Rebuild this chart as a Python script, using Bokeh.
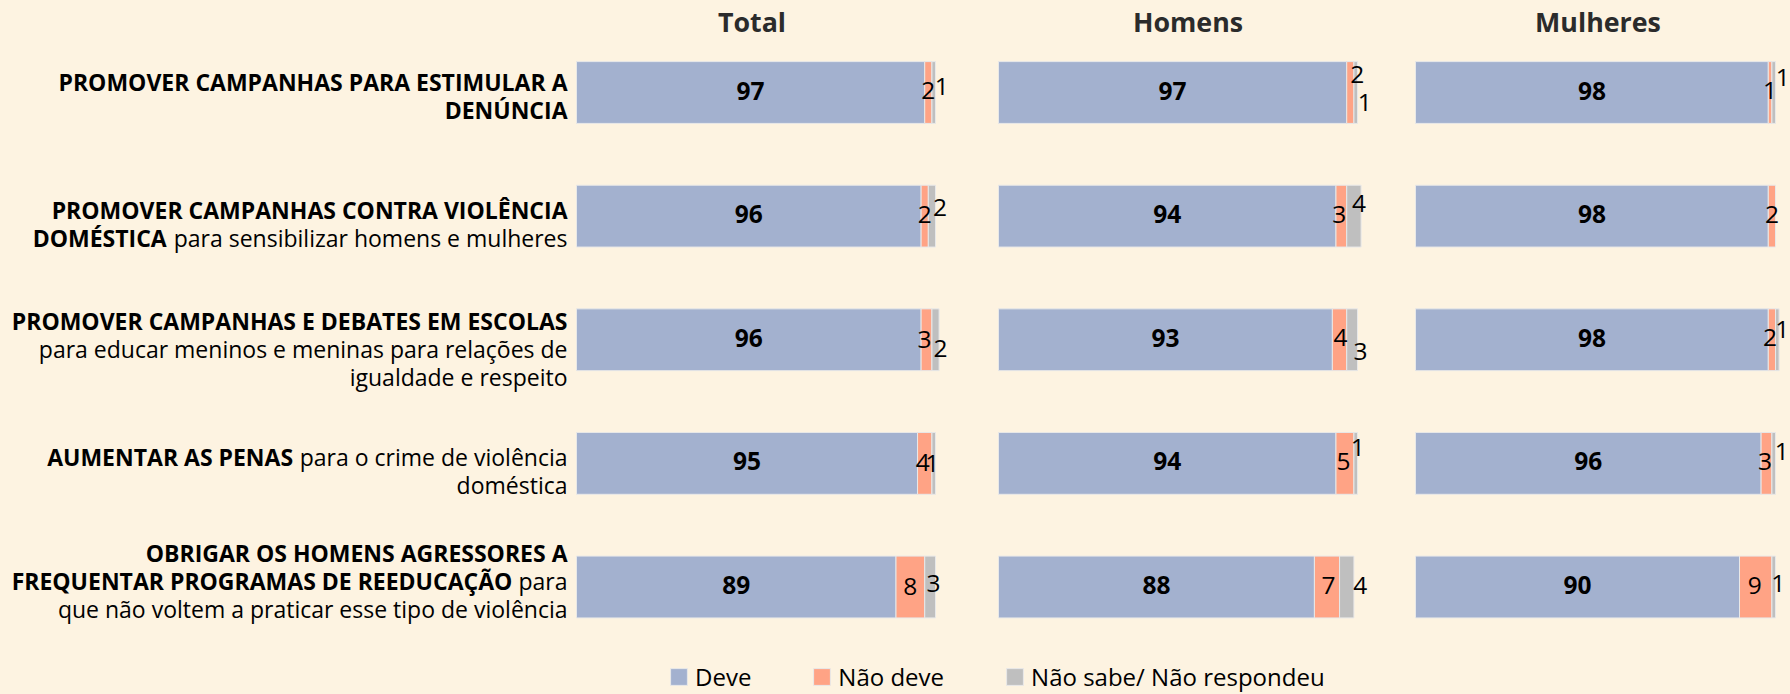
import os
import glob
import struct

from bokeh.plotting import figure
from bokeh.models import ColumnDataSource, Range1d, Legend, LegendItem
from bokeh.core.properties import value
from bokeh.embed import file_html
from bokeh.resources import INLINE

# ---------------- data ----------------
categories = [
    "PROMOVER CAMPANHAS PARA ESTIMULAR A DENÚNCIA",
    "PROMOVER CAMPANHAS CONTRA VIOLÊNCIA DOMÉSTICA para sensibilizar homens e mulheres",
    "PROMOVER CAMPANHAS E DEBATES EM ESCOLAS para educar meninos e meninas para relações de igualdade e respeito",
    "AUMENTAR AS PENAS para o crime de violência doméstica",
    "OBRIGAR OS HOMENS AGRESSORES A FREQUENTAR PROGRAMAS DE REEDUCAÇÃO para que não voltem a praticar esse tipo de violência",
]
groups = ["Total", "Homens", "Mulheres"]
series = ["Deve", "Não deve", "Não sabe/ Não respondeu"]

total_deve = [97, 96, 96, 95, 89]
total_nao_deve = [2, 2, 3, 4, 8]
total_ns = [1, 2, 2, 1, 3]

homens_deve = [97, 94, 93, 94, 88]
homens_nao_deve = [2, 3, 4, 5, 7]
homens_ns = [1, 4, 3, 1, 4]

mulheres_deve = [98, 98, 98, 96, 90]
mulheres_nao_deve = [1, 2, 2, 3, 9]
mulheres_ns = [1, 0, 1, 1, 1]

# category labels broken into lines: (bold part, regular part)
label_lines = [
    [("PROMOVER CAMPANHAS PARA ESTIMULAR A", ""), ("DENÚNCIA", "")],
    [("PROMOVER CAMPANHAS CONTRA VIOLÊNCIA", ""),
     ("DOMÉSTICA", "para sensibilizar homens e mulheres")],
    [("PROMOVER CAMPANHAS E DEBATES EM ESCOLAS", ""),
     ("", "para educar meninos e meninas para relações de"),
     ("", "igualdade e respeito")],
    [("AUMENTAR AS PENAS", "para o crime de violência"), ("", "doméstica")],
    [("OBRIGAR OS HOMENS AGRESSORES A", ""),
     ("FREQUENTAR PROGRAMAS DE REEDUCAÇÃO", "para"),
     ("", "que não voltem a praticar esse tipo de violência")],
]

# ---------------- styles ----------------
BG = "#FDF3E1"
COLORS = ["#A3B1CF", "#FFA385", "#BFBFBF"]
BAR_LINE = "#E8E8E8"
FONT = "Open Sans"

W, H = 1790, 694
ROW_STEP = 123.625
Y_END = 92 / ROW_STEP
Y_START = Y_END - H / ROW_STEP
BAR_H = 0.5

panel_x0 = {"Total": 576, "Homens": 998, "Mulheres": 1415}
panel_scale = {"Total": 3.59, "Homens": 3.59, "Mulheres": 3.60}
title_dx = {"Total": -4, "Homens": 10, "Mulheres": 2.5}
TITLE_CENTER = 20.5

# manual nudges (px) for the small labels, like the original chart
nd_dx = {"Total": [0, 0, -2, -2, 0], "Homens": [7, -2, 1, -1.5, 1.5], "Mulheres": [0, 0, -2, -1.5, -1]}
nd_dy = {"Total": [0, 0, 2, 1, 1], "Homens": [-16, 0, 0, 0, 0], "Mulheres": [0, 0, 0, 0, 0]}
ns_dx = {"Total": [8, 8, 5, -1.5, 3.5], "Homens": [9, 5, 8.5, 2, 13.5], "Mulheres": [9, 0, 5, 8, 4.5]}
ns_dy = {"Total": [-4, -6.5, 11, 2, -1.5], "Homens": [12, -10.5, 13.5, -14, 0], "Mulheres": [-13, 0, -8, -10, -1.5]}

# vertical position (px, relative to the bar centre) of the first label line
label_first_line = [-11, -6, -19, -6.5, -34]
LINE_STEP = 28
LABEL_RIGHT = 567
NUM_DY = -2


# ---------------- font metrics (for mixed bold/regular lines) ----------------
def _parse_font(path):
    data = open(path, "rb").read()
    base = 0
    if data[:4] == b"ttcf":
        base = struct.unpack(">I", data[12:16])[0]
    num = struct.unpack(">H", data[base + 4:base + 6])[0]
    tabs = {}
    for i in range(num):
        r = base + 12 + 16 * i
        tag = data[r:r + 4].decode("latin-1")
        off = struct.unpack(">I", data[r + 8:r + 12])[0]
        tabs[tag] = off
    upem = struct.unpack(">H", data[tabs["head"] + 18:tabs["head"] + 20])[0]
    nhm = struct.unpack(">H", data[tabs["hhea"] + 34:tabs["hhea"] + 36])[0]
    hm = tabs["hmtx"]
    adv = struct.unpack(">%dH" % (2 * nhm), data[hm:hm + 4 * nhm])[0::2]
    cm = tabs["cmap"]
    nsub = struct.unpack(">H", data[cm + 2:cm + 4])[0]
    sub4 = sub12 = None
    for i in range(nsub):
        pid, eid, so = struct.unpack(">HHI", data[cm + 4 + 8 * i:cm + 12 + 8 * i])
        fmt = struct.unpack(">H", data[cm + so:cm + so + 2])[0]
        if fmt == 12 and sub12 is None:
            sub12 = cm + so
        elif fmt == 4 and sub4 is None and pid in (0, 3):
            sub4 = cm + so
    if sub12 is not None:
        st = sub12
        ng = struct.unpack(">I", data[st + 12:st + 16])[0]
        grp = [struct.unpack(">III", data[st + 16 + 12 * i:st + 28 + 12 * i]) for i in range(ng)]

        def gid(c):
            for s, e, g in grp:
                if s <= c <= e:
                    return g + c - s
            return 0
    elif sub4 is not None:
        st = sub4
        seg2 = struct.unpack(">H", data[st + 6:st + 8])[0]
        seg = seg2 // 2
        ends = struct.unpack(">%dH" % seg, data[st + 14:st + 14 + seg2])
        starts = struct.unpack(">%dH" % seg, data[st + 16 + seg2:st + 16 + 2 * seg2])
        deltas = struct.unpack(">%dh" % seg, data[st + 16 + 2 * seg2:st + 16 + 3 * seg2])
        rpos = st + 16 + 3 * seg2
        roffs = struct.unpack(">%dH" % seg, data[rpos:rpos + seg2])

        def gid(c):
            for i in range(seg):
                if starts[i] <= c <= ends[i]:
                    if roffs[i] == 0:
                        return (c + deltas[i]) & 0xFFFF
                    a = rpos + 2 * i + roffs[i] + 2 * (c - starts[i])
                    g = struct.unpack(">H", data[a:a + 2])[0]
                    return (g + deltas[i]) & 0xFFFF if g else 0
            return 0
    else:
        return None

    def width(text):
        tot = 0
        for ch in text:
            g = gid(ord(ch))
            tot += adv[min(g, nhm - 1)]
        return tot / upem

    return width


def _find_font(names):
    dirs = ["/usr/share/fonts", "/usr/local/share/fonts",
            os.path.expanduser("~/.fonts"), os.path.expanduser("~/.local/share/fonts")]
    for n in names:
        for d in dirs:
            for f in glob.glob(os.path.join(d, "**", n), recursive=True):
                try:
                    w = _parse_font(f)
                    if w is not None:
                        return w
                except Exception:
                    pass
    return None


w_reg = _find_font(["OpenSans-Regular.ttf"])
w_bold = _find_font(["OpenSans-Bold.ttf"])

if w_reg is None:
    w_reg = lambda t: 0.54 * len(t)
    have_metrics = False
else:
    have_metrics = True
if w_bold is None:
    _r = w_reg
    w_bold = lambda t: 1.07 * _r(t)

if have_metrics:
    fs_label = 0.5 * (507 / w_bold("PROMOVER CAMPANHAS PARA ESTIMULAR A")
                      + 533 / w_reg("para educar meninos e meninas para relações de"))
    fs_label = max(19.0, min(26.0, fs_label))
    fs_title = max(22.0, min(30.0, 126 / w_bold("Mulheres")))
else:
    fs_label, fs_title = 23.0, 26.0

FS_NUM = 24.5
FS_LEG = 24.0

# ---------------- figure ----------------
p = figure(width=W, height=H, x_range=Range1d(0, W), y_range=Range1d(Y_START, Y_END),
           output_backend="svg", toolbar_location=None, min_border=0,
           x_axis_location=None, y_axis_location=None,
           background_fill_color=BG, border_fill_color=BG, outline_line_color=None)
p.grid.visible = False

try:
    from bokeh.models import GlobalInlineStyleSheet
    p.stylesheets = [GlobalInlineStyleSheet(css="html, body { background-color: %s; }" % BG)]
except Exception:
    pass

for g in groups:
    x0 = panel_x0[g]
    s = panel_scale[g]
    p.extra_x_ranges[g] = Range1d(-x0 / s, (W - x0) / s)

ys = [-i for i in range(len(categories))]

panel_data = {
    "Total": (total_deve, total_nao_deve, total_ns),
    "Homens": (homens_deve, homens_nao_deve, homens_ns),
    "Mulheres": (mulheres_deve, mulheres_nao_deve, mulheres_ns),
}

legend_renderers = None
for g in groups:
    deve, nd, ns = panel_data[g]
    src = ColumnDataSource(dict(y=ys, deve=deve, nd=nd, ns=ns))
    rs = p.hbar_stack(["deve", "nd", "ns"], y="y", height=BAR_H, color=COLORS,
                      line_color=BAR_LINE, line_width=1, source=src, x_range_name=g)
    if legend_renderers is None:
        legend_renderers = rs

    # value labels
    bx, by, bt = [], [], []
    sx, sy, st, sdx, sdy = [], [], [], [], []
    for i in range(len(categories)):
        bx.append(deve[i] / 2.0)
        by.append(ys[i])
        bt.append(str(deve[i]))
        sx.append(deve[i] + nd[i] / 2.0)
        sy.append(ys[i])
        st.append(str(nd[i]))
        sdx.append(nd_dx[g][i])
        sdy.append(nd_dy[g][i] + NUM_DY)
        if ns[i] > 0:
            sx.append(deve[i] + nd[i] + ns[i] / 2.0)
            sy.append(ys[i])
            st.append(str(ns[i]))
            sdx.append(ns_dx[g][i])
            sdy.append(ns_dy[g][i] + NUM_DY)
    p.text(x="x", y="y", text="text", source=ColumnDataSource(dict(x=bx, y=by, text=bt)),
           x_range_name=g, y_offset=NUM_DY, text_font=value(FONT), text_font_style="bold",
           text_font_size="%.1fpx" % FS_NUM, text_align="center", text_baseline="alphabetic",
           text_color="#000000")
    p.text(x="x", y="y", text="text", x_offset="dx", y_offset="dy",
           source=ColumnDataSource(dict(x=sx, y=sy, text=st, dx=sdx, dy=sdy)),
           x_range_name=g, text_font=value(FONT), text_font_size="%.1fpx" % FS_NUM,
           text_align="center", text_baseline="alphabetic", text_color="#000000")

    # panel title
    p.text(x=[50], y=[Y_END - TITLE_CENTER / ROW_STEP], text=[g], x_offset=title_dx[g],
           x_range_name=g, text_font=value(FONT), text_font_style="bold",
           text_font_size="%.1fpx" % fs_title, text_align="center",
           text_baseline="alphabetic", text_color="#2B2B2B")

# category labels
bold_x, bold_y, bold_t, bold_dy = [], [], [], []
reg_x, reg_y, reg_t, reg_dy = [], [], [], []
space_w = w_reg(" ") * fs_label
for i, lines in enumerate(label_lines):
    for k, (b, r) in enumerate(lines):
        dy = label_first_line[i] + k * LINE_STEP
        right = LABEL_RIGHT
        if r:
            reg_x.append(right)
            reg_y.append(ys[i])
            reg_t.append(r)
            reg_dy.append(dy)
            right = right - w_reg(r) * fs_label - space_w
        if b:
            bold_x.append(right)
            bold_y.append(ys[i])
            bold_t.append(b)
            bold_dy.append(dy)

p.text(x="x", y="y", text="text", y_offset="dy",
       source=ColumnDataSource(dict(x=bold_x, y=bold_y, text=bold_t, dy=bold_dy)),
       text_font=value(FONT), text_font_style="bold", text_font_size="%.1fpx" % fs_label,
       text_align="right", text_baseline="alphabetic", text_color="#000000")
p.text(x="x", y="y", text="text", y_offset="dy",
       source=ColumnDataSource(dict(x=reg_x, y=reg_y, text=reg_t, dy=reg_dy)),
       text_font=value(FONT), text_font_size="%.1fpx" % fs_label,
       text_align="right", text_baseline="alphabetic", text_color="#000000")

# legend
items = [LegendItem(label=series[j], renderers=[legend_renderers[j]]) for j in range(3)]
legend = Legend(items=items, orientation="horizontal", location=(668, 1),
                glyph_width=21, glyph_height=21, label_height=21, label_standoff=6,
                spacing=60, padding=0, margin=0, border_line_color=None,
                background_fill_alpha=0, label_text_font=FONT,
                label_text_font_size="%.1fpx" % FS_LEG, label_text_color="#000000")
p.add_layout(legend)

open("out.html", "w").write(file_html(p, INLINE))
